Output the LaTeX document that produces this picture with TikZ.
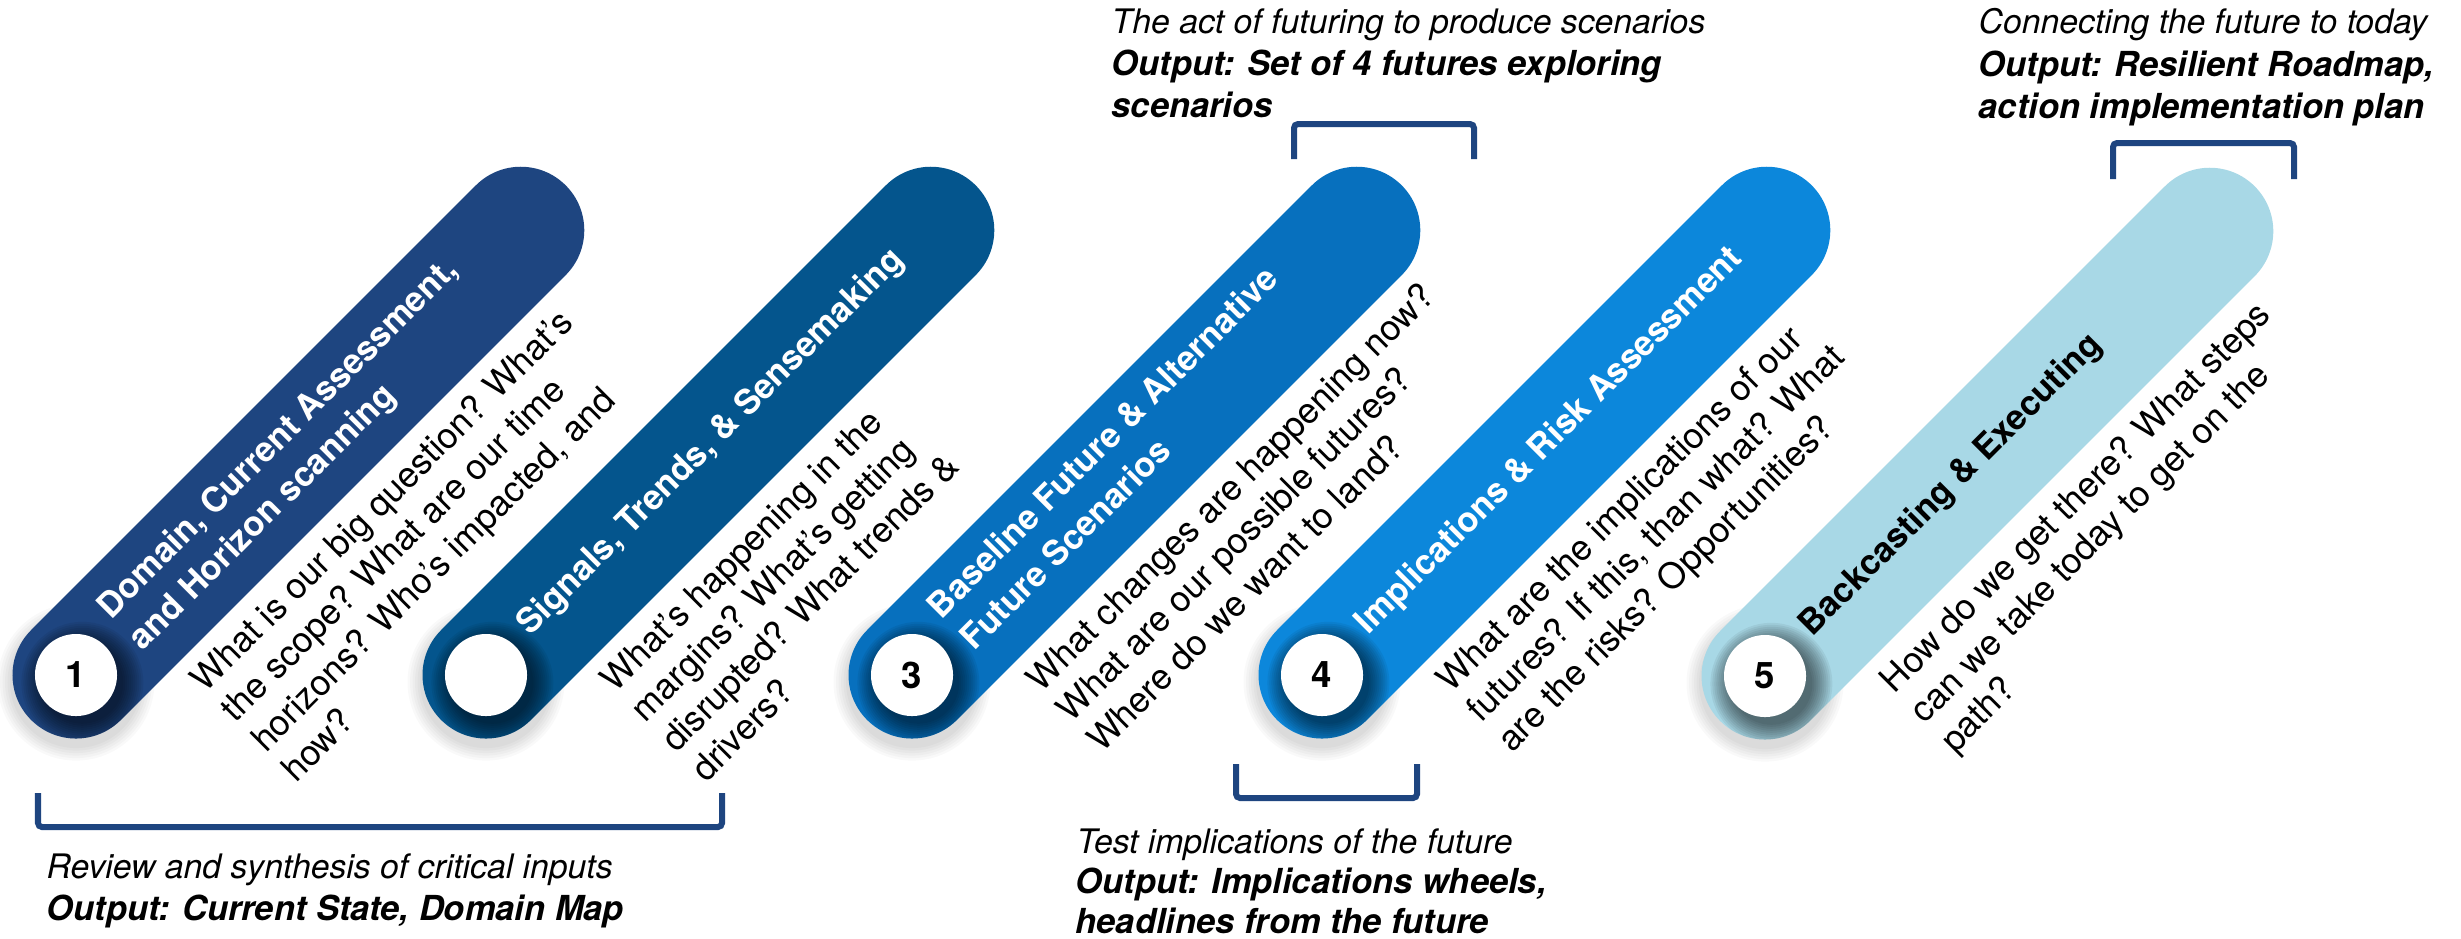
\documentclass[tikz,border=0pt]{standalone}
\usepackage{fontspec}
\setmainfont{TeX Gyre Heros}
\definecolor{pA}{RGB}{30,69,128}
\definecolor{pB}{RGB}{4,85,141}
\definecolor{pC}{RGB}{7,112,190}
\definecolor{pD}{RGB}{12,135,219}
\definecolor{pE}{RGB}{168,216,230}
\definecolor{brc}{RGB}{30,69,128}
\tikzset{
  pillshape/.style={insert path={(0,-63.5) -- (629,-63.5) arc[start angle=-90,end angle=90,radius=63.5] -- (0,63.5) arc[start angle=90,end angle=270,radius=63.5] -- cycle}},
  ttl/.style={font=\bfseries\fontsize{9.8}{11}\selectfont, text=white, anchor=base west, inner sep=0pt, rotate=45},
  desc/.style={font=\fontsize{10.1}{12}\selectfont, text=black, anchor=base west, inner sep=0pt, rotate=45},
  numcirc/.style={circle, fill=white, minimum size=0.82cm, inner sep=0pt, font=\bfseries\fontsize{10.4}{12}\selectfont},
  brk/.style={draw=brc, line width=0.06cm, rounded corners=0.04cm},
  capit/.style={font=\itshape\fontsize{9.6}{11}\selectfont, anchor=base west, inner sep=0pt},
  capbf/.style={font=\bfseries\itshape\fontsize{9.8}{11}\selectfont, anchor=base west, inner sep=0pt},
}
\newcommand\mypill[5]{%
\begin{scope}[shift={(#2,-#3)}, rotate=45]
  \foreach \i in {1,...,6} \fill[black,opacity=0.025] (-5,-5) circle[radius={63.5+2.5*\i}];
  \fill[#4, pillshape];
  \begin{scope}
    \clip[pillshape];
    \foreach \i in {0,...,10} \fill[black,opacity=0.06] (-1,-10) circle[radius={41+2*\i}];
  \end{scope}
  \node[numcirc] (#1) at (0,0) {#5};
\end{scope}}
\newcommand\mydesc[4]{% name, x, y, lines
\begin{scope}[shift={(#2,-#3)}, rotate=45]
  \foreach \t [count=\i from 0] in {#4}
    \node[desc] (#1\i) at (78,{-105-42.5*\i}) {\t};
\end{scope}}
\begin{document}
\begin{tikzpicture}[x=0.01cm,y=0.01cm]
\useasboundingbox (0,0) rectangle (2461,-938);
\fill[white] (0,0) rectangle (2461,-938);

% pills
\mypill{p1}{76}{675}{pA}{1}
\mypill{p2}{486}{675}{pB}{}
\mypill{p3}{912}{675}{pC}{3}
\mypill{p4}{1322}{675}{pD}{4}
\mypill{p5}{1765}{676}{pE}{5}

% titles
\begin{scope}[shift={(76,-675)}, rotate=45]
  \node[ttl] (t1a) at (63,14) {Domain, Current Assessment,};
  \node[ttl] (t1b) at (63,-31) {and Horizon scanning};
\end{scope}
\begin{scope}[shift={(486,-675)}, rotate=45]
  \node[ttl] (t2) at (58,-4) {Signals, Trends, \& Sensemaking};
\end{scope}
\begin{scope}[shift={(912,-675)}, rotate=45]
  \node[ttl] (t3a) at (59,18) {Baseline Future \& Alternative};
  \node[ttl] (t3b) at (60,-28) {Future Scenarios};
\end{scope}
\begin{scope}[shift={(1322,-675)}, rotate=45]
  \node[ttl] (t4) at (60,-5) {Implications \& Risk Assessment};
\end{scope}
\begin{scope}[shift={(1765,-676)}, rotate=45]
  \node[ttl, text=black] (t5) at (60,-6) {Backcasting \& Executing};
\end{scope}

% descriptions
\mydesc{d1}{76}{675}{{What is our big question? What’s},{the scope? What are our time},{horizons? Who’s impacted, and},{how?}}
\mydesc{d2}{486}{675}{{What’s happening in the},{margins? What’s getting},{disrupted? What trends \&},{drivers?}}
\mydesc{d3}{912}{675}{{What changes are happening now?},{What are our possible futures?},{Where do we want to land?}}
\mydesc{d4}{1322}{675}{{What are the implications of our},{futures? If this, than what? What},{are the risks? Opportunities?}}
\mydesc{d5}{1765}{676}{{How do we get there? What steps},{can we take today to get on the},{path?}}

% brackets
\draw[brk] (38,-793) -- (38,-827) -- (722,-827) -- (722,-793);
\draw[brk] (1236,-764) -- (1236,-798) -- (1417,-798) -- (1417,-764);
\draw[brk] (1294,-159) -- (1294,-124) -- (1474,-124) -- (1474,-159);
\draw[brk] (2113,-179) -- (2113,-143) -- (2294,-143) -- (2294,-179);

% captions
\node[capit] (c1a) at (46,-878) {Review and synthesis of critical inputs};
\node[capbf] (c1b) at (46,-920) {Output: Current State, Domain Map};
\node[capit] (c4a) at (1076,-853) {Test implications of the future};
\node[capbf] (c4b) at (1075,-893) {Output: Implications wheels,};
\node[capbf] (c4c) at (1075,-933) {headlines from the future};
\node[capit] (c3a) at (1111,-33) {The act of futuring to produce scenarios};
\node[capbf] (c3b) at (1111,-75) {Output: Set of 4 futures exploring};
\node[capbf] (c3c) at (1111,-117) {scenarios};
\node[capit] (c5a) at (1978,-33) {Connecting the future to today};
\node[capbf] (c5b) at (1978,-76) {Output: Resilient Roadmap,};
\node[capbf] (c5c) at (1978,-118) {action implementation plan};
\end{tikzpicture}
\end{document}
